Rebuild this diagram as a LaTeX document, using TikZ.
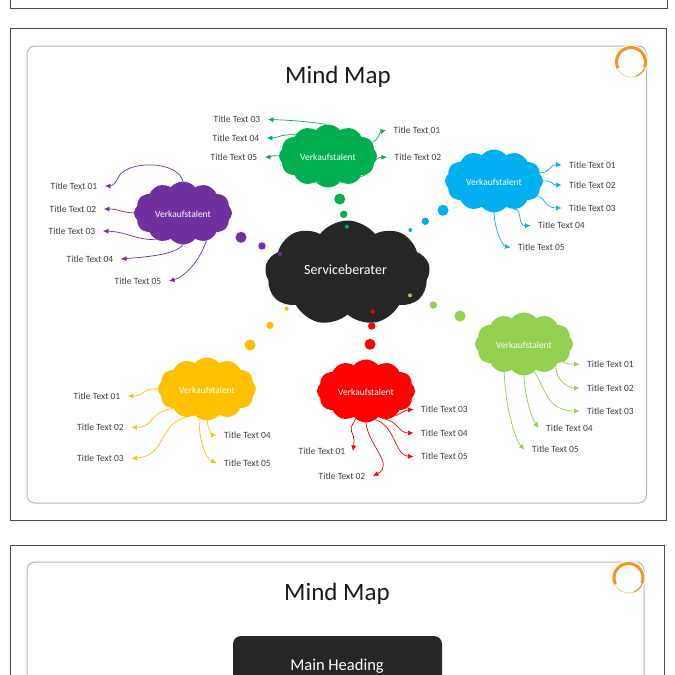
\documentclass[tikz,border=0pt]{standalone}
\usepackage{fontspec}
\setmainfont{Carlito}
\usetikzlibrary{shapes.symbols, arrows.meta}

\definecolor{cblack}{HTML}{262626}
\definecolor{cgreen}{HTML}{00B050}
\definecolor{cblue}{HTML}{00B0F0}
\definecolor{cpurple}{HTML}{7030A0}
\definecolor{cyellow}{HTML}{FFC000}
\definecolor{cred}{HTML}{FF0000}
\definecolor{clime}{HTML}{92D050}
\definecolor{cring}{HTML}{F7941D}

\newcommand{\talent}{\raisebox{0pt}[9pt][0pt]{Verkaufstalent}}

\begin{document}
\begin{tikzpicture}[
      x=1pt, y=-1pt,
      frame/.style={draw=black!70, line width=0.9pt},
      sheet/.style={draw=black!28, line width=1pt, rounded corners=8pt},
      heading/.style={font=\fontsize{25}{25}\selectfont, text=black!90},
      topic/.style={cloud, cloud puffs=12, cloud puff arc=100, aspect=1.55, draw=none,
                  inner sep=0pt, minimum width=98pt, minimum height=63pt,
                  text=white, font=\fontsize{9.5}{10}\selectfont},
      core/.style={topic, fill=cblack, cloud puffs=9, cloud puff arc=105,
                  minimum width=165pt, minimum height=105pt,
                  font=\fontsize{14}{15}\selectfont},
      lbl/.style={inner ysep=0pt, inner xsep=7.5pt, text=black!75,
                  font=\fontsize{9.5}{10}\selectfont},
      arr/.style={-{Latex[length=5.5pt, width=5pt]}, line width=0.7pt}
    ]
    \useasboundingbox (0,0) rectangle (675,675);
    \clip (0,0) rectangle (675,675);
    \fill[white] (0,0) rectangle (675,675);

    % page frames
    \draw[frame] (10.5,-10) rectangle (667,8.5);
    \draw[frame] (10.5,28.5) rectangle (666,520);
    \draw[frame] (10.5,545.5) rectangle (664,690);
    \draw[sheet] (27,46) rectangle (646.5,503);
    \draw[sheet] (27,562) rectangle (644,690);

    % rings
    \foreach \cx/\cy in {631/62, 628.5/578} {
      \fill[white] (\cx,\cy) circle (17);
      \draw[cring!45, line width=0.8pt] (\cx,\cy) circle (15);
      \draw[cring, line width=3pt] (\cx,\cy) ++(20:14.5) arc (20:-205:14.5);
      \draw[cring, line width=1.2pt] (\cx,\cy) ++(20:15) arc (20:70:15);
    }

    \node[heading] (title)  at (338,77)  {Mind Map};
    \node[heading] (title2) at (337,594) {Mind Map};
    \node[fill=cblack, rounded corners=8pt, minimum width=209pt, minimum height=80pt] (main) at (337.5,676) {};
    \node[text=white, font=\fontsize{16.5}{17}\selectfont] (maintext) at (337,666) {Main Heading};

    % clouds
    \node[core] (serv) at (347.5,273) {\raisebox{0pt}[10pt][8pt]{Serviceberater}\kern4pt};
    \node[topic, fill=cgreen]  (gr) at (328,156) {\talent};
    \node[topic, fill=cblue]   (bl) at (494,181) {\talent};
    \node[topic, fill=cpurple] (pu) at (183,213) {\talent};
    \node[topic, fill=cyellow] (ye) at (207,389) {\talent};
    \node[topic, fill=cred]    (re) at (366,391) {\talent};
    \node[topic, fill=clime]   (li) at (524,344) {\talent};

    % trails of dots
    \foreach \col/\ax/\ay/\bx/\by/\cx/\cy in {
        cgreen/339.7/199/343.7/214.3/347/226.7,
        cblue/443/210.3/425.3/221.3/410.3/230,
        cpurple/241/237.3/262/246/280/254,
        cyellow/250/345/270/325.3/286.7/308.7,
        cred/370/344.3/371.7/326/372.7/311.7,
        clime/460/316/433.3/305/410/295.3} {
      \fill[\col] (\ax,\ay) circle (5.5);
      \fill[\col] (\bx,\by) circle (3.7);
      \fill[\col] (\cx,\cy) circle (2);
    }

    % labels
    \foreach \nm/\lx/\ly/\num in {
        g1/417/130/01, g2/418/157/02, g3/237/119.5/03, g4/236/138/04, g5/234/157/05,
        b1/592.5/165/01, b2/592.5/185/02, b3/592.5/208/03, b4/561.5/225.5/04, b5/541.5/247.5/05,
        p1/74/186/01, p2/73/209/02, p3/72/231/03, p4/90/259/04, p5/138/281/05,
        y1/97/396/01, y2/100.5/427.5/02, y3/100.5/458.5/03, y4/247.5/435.5/04, y5/247.5/463/05,
        r1/322/451/01, r2/342/476/02, r3/444.5/409.5/03, r4/444.5/433/04, r5/444.5/456.5/05,
        l1/610.5/364.5/01, l2/610.5/388/02, l3/610.5/411/03, l4/569.5/428/04, l5/555.5/449.5/05} {
      \node[lbl] (\nm) at (\lx,\ly) {Title Text \num};
    }

    % green
    \draw[arr, cgreen] (gr.17)  .. controls (380,138) and (379,132) .. (g1.west);
    \draw[arr, cgreen] (gr.-32) .. controls (376,172) and (370,158) .. (g2.west);
    \draw[arr, cgreen] (gr.93)  .. controls (305,121) and (285,120) .. (g3.east);
    \draw[arr, cgreen] (gr.147) .. controls (280,134) and (278,138) .. (g4.east);
    \draw[arr, cgreen] (gr.180) .. controls (272,155) and (270,157) .. (g5.east);
    % blue
    \draw[arr, cblue] (bl.10)  .. controls (552,172) and (550,164) .. (b1.west);
    \draw[arr, cblue] (bl.0)   .. controls (552,180) and (552,185) .. (b2.west);
    \draw[arr, cblue] (bl.-20) .. controls (545,195) and (543,208) .. (b3.west);
    \draw[arr, cblue] (bl.-55) .. controls (523,208) and (517,226) .. (b4.west);
    \draw[arr, cblue] (bl.270) .. controls (495,232) and (503,246) .. (b5.west);
    % purple
    \draw[arr, cpurple] (pu.90)  .. controls (178,160) and (125,160) .. (118,178)
                                 .. controls (116,183) and (112,186) .. (p1.east);
    \draw[arr, cpurple] (pu.180) .. controls (120,212) and (118,209) .. (p2.east);
    \draw[arr, cpurple] (pu.225) .. controls (135,240) and (128,232) .. (p3.east);
    \draw[arr, cpurple] (pu.270) .. controls (175,255) and (145,257) .. (p4.east);
    \draw[arr, cpurple] (pu.310) .. controls (200,260) and (185,277) .. (p5.east);
    % yellow
    \draw[arr, cyellow] (ye.180) .. controls (142,388) and (145,396) .. (y1.east);
    \draw[arr, cyellow] (ye.210) .. controls (148,412) and (155,427) .. (y2.east);
    \draw[arr, cyellow] (ye.245) .. controls (155,420) and (170,455) .. (y3.east);
    \draw[arr, cyellow] (ye.270) .. controls (208,428) and (212,435) .. (y4.west);
    \draw[arr, cyellow] (ye.255) .. controls (199,440) and (205,458) .. (y5.west);
    % red
    \draw[arr, cred] (re.-110) .. controls (345,435) and (356,428) .. (r1.east);
    \draw[arr, cred] (re.270)  .. controls (368,445) and (395,465) .. (r2.east);
    \draw[arr, cred] (re.-40)  .. controls (400,414) and (405,410) .. (r3.west);
    \draw[arr, cred] (re.-60)  .. controls (398,420) and (398,433) .. (r4.west);
    \draw[arr, cred] (re.-72)  .. controls (395,425) and (395,456) .. (r5.west);
    % lime
    \draw[arr, clime] (li.-25) .. controls (565,364) and (572,364) .. (l1.west);
    \draw[arr, clime] (li.-35) .. controls (556,382) and (570,388) .. (l2.west);
    \draw[arr, clime] (li.-70) .. controls (545,385) and (545,411) .. (l3.west);
    \draw[arr, clime] (li.270) .. controls (525,395) and (530,415) .. (l4.west);
    \draw[arr, clime] (li.235) .. controls (505,405) and (515,440) .. (l5.west);
  \end{tikzpicture}
\end{document}
